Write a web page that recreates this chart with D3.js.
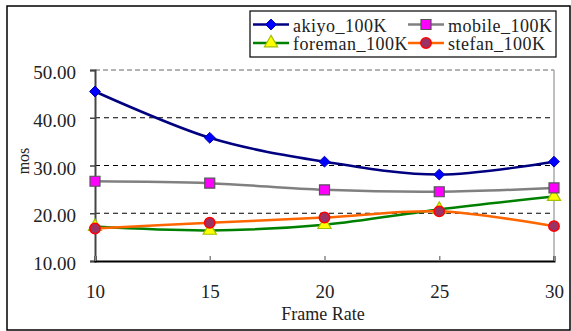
<!DOCTYPE html>
<html>
<head>
<meta charset="utf-8">
<script src="https://cdn.jsdelivr.net/npm/d3@7/dist/d3.min.js"></script>
<style>
  html, body { margin: 0; padding: 0; background: #fff; }
</style>
</head>
<body>
<svg id="chart" width="571" height="331"></svg>
<script>
// Frame rates on the x axis
const frameRates = [10, 15, 20, 25, 30];
// MOS values per sequence at 100K
const akiyo   = [45.5, 35.8, 30.8, 28.1, 30.8];
const mobile  = [26.7, 26.3, 24.9, 24.5, 25.3];
const foreman = [17.2, 16.4, 17.6, 20.8, 23.5];
const stefan  = [16.8, 18.0, 19.1, 20.4, 17.3];
const seriesNames = ["akiyo_100K", "mobile_100K", "foreman_100K", "stefan_100K"];
const yTicks = [10, 20, 30, 40, 50];

const SERIF = "Liberation Serif";

const series = [
  { name: seriesNames[0], values: akiyo,   line: "#000080", fill: "#0000ff", stroke: "#0000b0", shape: "diamond" },
  { name: seriesNames[1], values: mobile,  line: "#808080", fill: "#ff00ff", stroke: "#555555", shape: "square" },
  { name: seriesNames[2], values: foreman, line: "#008000", fill: "#ffff00", stroke: "#a0c000", shape: "triangle" },
  { name: seriesNames[3], values: stefan,  line: "#ff6600", fill: "#993366", stroke: "#ff0000", shape: "circle" }
];

const svg = d3.select("#chart");
const plot = { left: 95, right: 554, top: 70, bottom: 261 };

const x = d3.scaleLinear().domain([10, 30]).range([plot.left, plot.right]);
const y = d3.scaleLinear().domain([10, 50]).range([plot.bottom, plot.top]);

// outer frame
svg.append("rect").attr("x", 7).attr("y", 6).attr("width", 563).attr("height", 324)
  .attr("fill", "none").attr("stroke", "#000").attr("stroke-width", 1.5);

// dashed gridlines
svg.append("g").selectAll("line").data([20, 30, 40]).join("line")
  .attr("x1", plot.left).attr("x2", plot.right)
  .attr("y1", d => y(d)).attr("y2", d => y(d))
  .attr("stroke", "#000").attr("stroke-width", 1).attr("stroke-dasharray", "5,4");

// top (dashed gray) and right (solid gray) plot edges
svg.append("line").attr("x1", plot.left).attr("x2", plot.right)
  .attr("y1", y(50)).attr("y2", y(50))
  .attr("stroke", "#999").attr("stroke-width", 1.5).attr("stroke-dasharray", "5,3");
svg.append("line").attr("x1", plot.right).attr("x2", plot.right)
  .attr("y1", y(50)).attr("y2", plot.bottom)
  .attr("stroke", "#aaa").attr("stroke-width", 1.5);

// y axis
const yAxis = d3.axisLeft(y).tickValues(yTicks).tickFormat(d3.format(".2f")).tickSize(5).tickPadding(14);
const gy = svg.append("g").attr("transform", `translate(${plot.left},0)`).call(yAxis);
gy.select(".domain").attr("stroke", "#444").attr("stroke-width", 2);
gy.selectAll(".tick line").attr("stroke", "#444").attr("stroke-width", 1.5);
gy.selectAll(".tick text").style("font-family", SERIF).style("font-size", "19px")
  .attr("fill", "#222").attr("dy", "0.45em");

// x axis, ticks pointing inward
const xAxis = d3.axisBottom(x).tickValues(frameRates).tickSize(-5).tickPadding(24);
const gx = svg.append("g").attr("transform", `translate(0,${plot.bottom})`).call(xAxis);
gx.select(".domain").attr("stroke", "#000").attr("stroke-width", 2);
gx.selectAll(".tick line").attr("stroke", "#888").attr("stroke-width", 1.5);
gx.selectAll(".tick text").style("font-family", SERIF).style("font-size", "19px").attr("fill", "#222");

// axis titles
svg.append("text").attr("x", 323).attr("y", 320).attr("text-anchor", "middle")
  .style("font-family", SERIF).style("font-size", "18px").attr("fill", "#222").text("Frame Rate");
svg.append("text").attr("transform", "translate(29,161) rotate(-90)").attr("text-anchor", "middle")
  .style("font-family", SERIF).style("font-size", "16px").attr("fill", "#222").text("mos");

// smoothed series lines
const lineGen = d3.line()
  .x((d, i) => x(frameRates[i]))
  .y(d => y(d))
  .curve(d3.curveCatmullRom.alpha(0));

const drawOrder = [series[1], series[0], series[2], series[3]];
svg.append("g").selectAll("path").data(drawOrder).join("path")
  .attr("d", s => lineGen(s.values))
  .attr("fill", "none").attr("stroke", s => s.line).attr("stroke-width", 2.5);

function marker(g, shape, cx, cy, s) {
  const sym = {
    diamond: d3.symbol().type(d3.symbolDiamond2).size(75),
    square: d3.symbol().type(d3.symbolSquare).size(100),
    triangle: d3.symbol().type(d3.symbolTriangle).size(75),
    circle: d3.symbol().type(d3.symbolCircle).size(85)
  }[shape];
  return g.append("path").attr("d", sym())
    .attr("transform", `translate(${cx},${cy})`)
    .attr("fill", s.fill).attr("stroke", s.stroke)
    .attr("stroke-width", shape === "circle" ? 1.5 : (shape === "diamond" ? 1 : 1.2));
}

// markers (triangles first so circles sit on top)
const markerOrder = [series[2], series[1], series[0], series[3]];
markerOrder.forEach(s => {
  const g = svg.append("g");
  s.values.forEach((v, i) => marker(g, s.shape, x(frameRates[i]), y(v), s));
});

// legend
const lg = svg.append("g");
lg.append("rect").attr("x", 250).attr("y", 11).attr("width", 306).attr("height", 46)
  .attr("fill", "#fff").attr("stroke", "#000").attr("stroke-width", 1.2);
const legendPos = [
  { s: series[0], x0: 253, y0: 24.5 },
  { s: series[1], x0: 408, y0: 24.5 },
  { s: series[2], x0: 253, y0: 43 },
  { s: series[3], x0: 408, y0: 43 }
];
legendPos.forEach(({ s, x0, y0 }) => {
  lg.append("line").attr("x1", x0).attr("x2", x0 + 36).attr("y1", y0).attr("y2", y0)
    .attr("stroke", s.line).attr("stroke-width", 2.5);
  marker(lg, s.shape, x0 + 18, y0, s);
  lg.append("text").attr("x", x0 + 40).attr("y", y0 + 7)
    .style("font-family", SERIF).style("font-size", "18px").style("letter-spacing", "0.5px")
    .attr("fill", "#222").text(s.name);
});
</script>
</body>
</html>
